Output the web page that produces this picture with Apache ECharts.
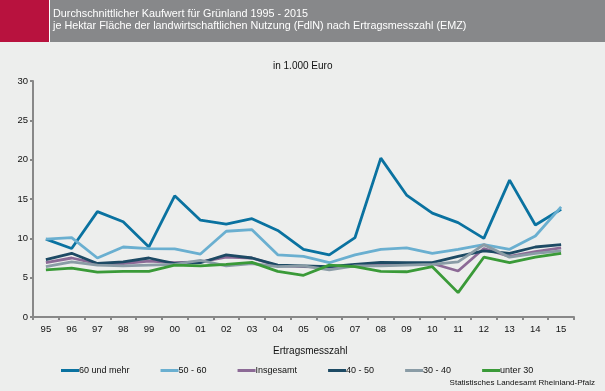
<!DOCTYPE html>
<html><head><meta charset="utf-8">
<script src="https://cdn.jsdelivr.net/npm/echarts@6/dist/echarts.min.js"></script>
<style>
html,body{margin:0;padding:0;background:#edeeed;}
#c{width:605px;height:391px;}
</style></head><body><div id="c"></div>
<script>
const categories = ['95','96','97','98','99','00','01','02','03','04','05','06','07','08','09','10','11','12','13','14','15'];
const yTicks = [0,5,10,15,20,25,30];
const s60 = [9.9,8.7,13.4,12.1,8.9,15.4,12.3,11.8,12.5,11.0,8.6,7.9,10.1,20.2,15.5,13.2,12.0,10.0,17.4,11.7,13.7];
const s50 = [9.9,10.1,7.5,8.9,8.7,8.65,8.0,10.9,11.1,7.9,7.7,6.9,7.9,8.6,8.8,8.1,8.6,9.2,8.6,10.3,14.0];
const sIns = [6.9,7.5,6.8,6.8,7.1,6.9,7.0,7.6,7.5,6.5,6.4,6.3,6.6,6.6,6.7,6.8,5.85,8.7,7.7,8.3,8.8];
const s40 = [7.3,8.1,6.8,7.0,7.5,6.8,6.9,7.9,7.5,6.6,6.5,6.4,6.7,6.95,6.9,6.9,7.7,8.4,8.1,8.9,9.2];
const s30 = [6.4,7.0,6.6,6.5,6.6,6.7,7.2,6.5,6.8,6.4,6.5,6.0,6.5,6.5,6.6,6.7,7.0,9.2,7.6,8.1,8.4];
const sU30 = [6.0,6.2,5.7,5.8,5.8,6.6,6.5,6.7,6.95,5.8,5.3,6.6,6.4,5.8,5.75,6.4,3.1,7.6,6.9,7.6,8.1];
const seriesNames = ['60 und mehr','50 - 60','Insgesamt','40 - 50','30 - 40','unter 30'];
const seriesData = [s60,s50,sIns,s40,s30,sU30];
const colors = ['#0a72a0','#6aafd0','#8c6a96','#1d4a64','#8a9ca6','#3a9a38'];

const chart = echarts.init(document.getElementById('c'), null, {renderer:'canvas'});
const font = 'Arial, "Liberation Sans", sans-serif';
chart.setOption({
  backgroundColor:'#edeeed',
  animation:false,
  color: colors,
  graphic:[
    {type:'rect', left:0, top:0, shape:{width:605,height:42}, style:{fill:'#87888a'}, z:0},
    {type:'rect', left:0, top:0, shape:{width:49,height:42}, style:{fill:'#b8123e'}, z:1},
    {type:'rect', left:49, top:0, shape:{width:1,height:42}, style:{fill:'#ffffff'}, z:1},
    {type:'text', left:53, top:9, style:{text:'Durchschnittlicher Kaufwert für Grünland 1995 - 2015', fill:'#ffffff', font:'10.8px '+font}, z:2},
    {type:'text', left:53, top:21, style:{text:'je Hektar Fläche der landwirtschaftlichen Nutzung (FdlN) nach Ertragsmesszahl (EMZ)', fill:'#ffffff', font:'10.8px '+font}, z:2},
    {type:'text', left:273, top:61, style:{text:'in 1.000 Euro', fill:'#111', font:'10px '+font}},
    {type:'text', left:273, top:346, style:{text:'Ertragsmesszahl', fill:'#111', font:'10px '+font}},
    {type:'text', right:10, top:379, style:{text:'Statistisches Landesamt Rheinland-Pfalz', fill:'#111', font:'8px '+font}}
  ],
  grid:{left:33, right:31, top:81, bottom:74},
  legend:{
    left:56, top:361, itemWidth:18, itemHeight:3, itemGap:31, icon:'rect',
    data: seriesNames,
    textStyle:{color:'#111', fontSize:9, fontFamily:font, padding:[0,0,0,-5]}
  },
  xAxis:{
    type:'category', data:categories, boundaryGap:true,
    axisLine:{lineStyle:{color:'#888', width:2}},
    axisTick:{show:true, length:3, lineStyle:{color:'#888', width:2}, alignWithLabel:false},
    axisLabel:{color:'#111', fontSize:9.5, fontFamily:font, margin:7}
  },
  yAxis:{
    type:'value', min:yTicks[0], max:yTicks[yTicks.length-1], interval:5,
    splitLine:{show:false},
    axisLine:{show:true, lineStyle:{color:'#888', width:2}},
    axisTick:{show:true, length:3, lineStyle:{color:'#888', width:2}},
    axisLabel:{color:'#111', fontSize:9.5, fontFamily:font, margin:5}
  },
  series: seriesNames.map((n,i)=>({
    name:n, type:'line', data:seriesData[i], symbol:'none',
    lineStyle:{width:2.8, color:colors[i]}, itemStyle:{color:colors[i]}, z:2+i
  }))
});
</script></body></html>
